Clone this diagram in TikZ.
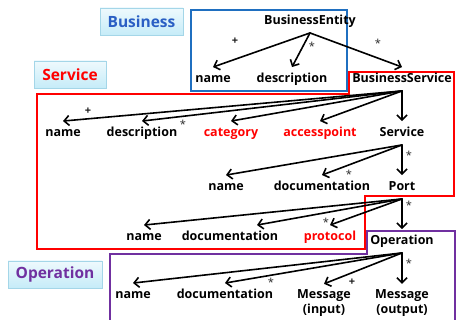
\documentclass[tikz,border=0pt]{standalone}
\usepackage{fontspec}
\setmainfont{Open Sans}
\usetikzlibrary{arrows.meta,shadows}

\definecolor{bizblue}{HTML}{1F6FC0}
\definecolor{biztext}{HTML}{2A5FC4}
\definecolor{opviolet}{HTML}{7030A0}
\definecolor{tagtop}{HTML}{EEF9FD}
\definecolor{tagbottom}{HTML}{C6ECF8}
\definecolor{tagedge}{HTML}{A4D6E8}

\begin{document}
\begin{tikzpicture}[x=1pt, y=-1pt,
	item/.style={font=\bfseries\fontsize{12.5}{15}\selectfont, inner xsep=1pt, inner ysep=5.5pt, text height=10pt, text depth=2.5pt},
	reditem/.style={item, text=red},
	msgitem/.style={font=\bfseries\fontsize{12.5}{15}\selectfont, inner xsep=1pt, inner ysep=5.5pt, align=center},
	star/.style={font=\fontsize{11}{12}\selectfont, text=black!85, inner sep=0pt, yshift=-2.5pt},
	plus/.style={font=\bfseries\fontsize{11}{12}\selectfont, text=black!90, inner sep=0pt},
	link/.style={-{Straight Barb[length=5pt,width=10pt]}, line width=1.6pt, line cap=round},
	tag/.style={draw=tagedge, top color=tagtop, bottom color=tagbottom, drop shadow={shadow xshift=1pt, shadow yshift=-1.2pt, opacity=0.25}, minimum height=27pt, inner sep=0pt, font=\bfseries\fontsize{15.5}{17}\selectfont}
	]
	\clip (0, 0) rectangle (456, 320);
	
	% group labels
	\node[tag, minimum width=83pt, text=biztext] (tbiz) at (141.5, 21.5) {Business};
	\node[tag, minimum width=72pt, text=red] (tsvc) at (70, 74.5) {Service};
	\node[tag, minimum width=94pt, text=opviolet] (top) at (55, 274.5) {Operation};
	
	% group frames
	\draw[bizblue, line width=2pt] (191, 10) rectangle (347, 91);
	\draw[red, line width=2pt] (37, 94) -- (349, 94) -- (349, 72) -- (454, 72) -- (454, 196) -- (365, 196) -- (365, 249) -- (37, 249) -- cycle;
	\draw[opviolet, line width=2pt] (110, 330) -- (110, 254) -- (367, 254) -- (367, 231) -- (455, 231) -- (455, 330);
	
	% business level
	\node[item] (be) at (310, 21)     {BusinessEntity};
	\node[item] (bname) at (213, 79)     {name};
	\node[item] (bdesc) at (292, 79)     {description};
	\node[item] (bs) at (402, 79)     {BusinessService};
	
	% service level
	\node[item] (sname) at (63, 133)     {name};
	\node[item] (sdesc) at (142, 133)     {description};
	\node[reditem] (scat) at (231, 133)     {category};
	\node[reditem] (sacc) at (320, 133)     {accesspoint};
	\node[item] (svc) at (402, 133)     {Service};
	
	\node[item] (vname) at (226, 187)     {name};
	\node[item] (vdoc) at (322, 187)     {documentation};
	\node[item] (port) at (402, 187)     {Port};
	
	\node[item] (pname) at (144, 237)     {name};
	\node[item] (pdoc) at (230, 237)     {documentation};
	\node[reditem] (pproto) at (330, 237)     {protocol};
	\node[item] (op) at (402, 241)     {Operation};
	
	% operation level
	\node[item] (oname) at (133, 295)     {name};
	\node[item] (odoc) at (225, 295)     {documentation};
	\node[msgitem] (oin) at (324, 303)     {Message\\(input)};
	\node[msgitem] (oout) at (402, 303)     {Message\\(output)};
	
	\path[link] (be.south) edge (bname.north);
	\path[link] (be.south) edge (bdesc.north);
	\path[link] (be.south) edge (bs.north);
	
	\path[link] (bs.south) edge (sname.north);
	\path[link] (bs.south) edge (sdesc.north);
	\path[link] (bs.south) edge (scat.north);
	\path[link] (bs.south) edge (sacc.north);
	\path[link] (bs.south) edge (svc.north);
	
	\path[link] (svc.south) edge (vname.north);
	\path[link] (svc.south) edge (vdoc.north);
	\path[link] (svc.south) edge (port.north);
	
	\path[link] (port.south) edge (pname.north);
	\path[link] (port.south) edge ([xshift=27pt]pdoc.north);
	\path[link] (port.south) edge (pproto.north);
	\path[link] (port.south) edge (op.north);
	
	\path[link] (op.south) edge (oname.north);
	\path[link] (op.south) edge (odoc.north);
	\path[link] (op.south) edge (oin.north);
	\path[link] (op.south) edge (oout.north);
	
	% multiplicities
	\node[plus] (m1) at (235, 41)     {+};
	\node[star] (m2) at (312, 44)     {*};
	\node[star] (m3) at (378, 41)     {*};
	\node[plus] (m4) at (88, 111)     {+};
	\node[star] (m5) at (183, 122)     {*};
	\node[star] (m6) at (409, 153)     {*};
	\node[star] (m7) at (349, 172)     {*};
	\node[star] (m8) at (409, 203)     {*};
	\node[star] (m9) at (326, 220)     {*};
	\node[star] (m10) at (409, 261)     {*};
	\node[star] (m11) at (271, 280)     {*};
	\node[plus] (m12) at (352, 282)     {+};
	
\end{tikzpicture}
\end{document}
